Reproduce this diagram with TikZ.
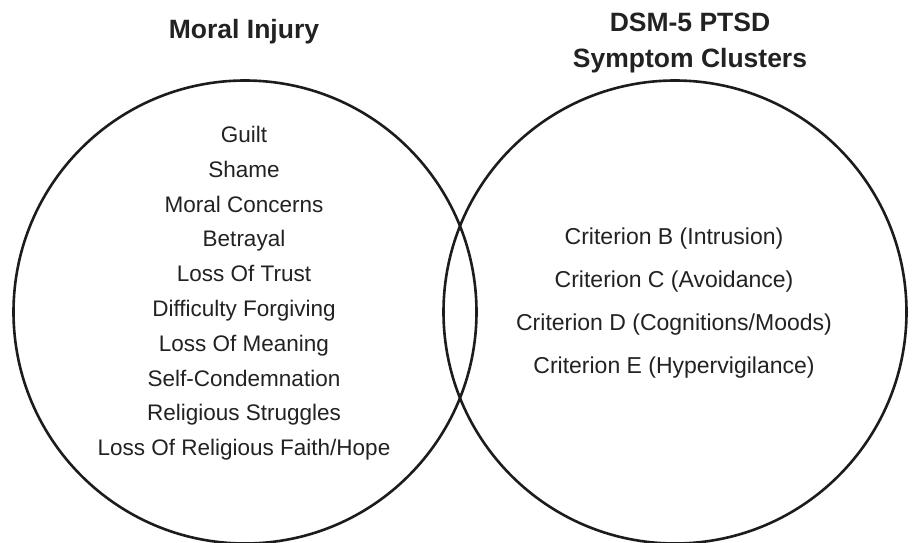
\documentclass[tikz,border=0pt]{standalone}
\usepackage{fontspec}
\setmainfont{Liberation Sans}
\definecolor{ink}{HTML}{1C1C1C}
\definecolor{txt}{HTML}{222222}
\begin{document}
\begin{tikzpicture}[x=1pt,y=-1pt,
  ring/.style={draw=ink, circle, line width=2.6pt, minimum size=463pt, inner sep=0pt},
  ttl/.style={font=\fontsize{26.5}{33}\selectfont\bfseries, text=txt, align=center, inner sep=0pt},
  litem/.style={font=\fontsize{22.5}{27}\selectfont, text=txt, inner sep=0pt},
  ritem/.style={font=\fontsize{23}{28}\selectfont, text=txt, inner sep=0pt}]
\useasboundingbox (0,0) rectangle (914,543);
\fill[white] (0,0) rectangle (914,543);
\node[ring] (L) at (245,312) {};
\node[ring] (R) at (675,312) {};
\node[ttl] (tL) at (244,32) {Moral Injury};
\node[ttl] (tR) at (690,43) {DSM-5 PTSD\\[3pt]Symptom Clusters};
\foreach \t [count=\i from 0] in {Guilt,Shame,Moral Concerns,Betrayal,Loss Of Trust,Difficulty Forgiving,Loss Of Meaning,Self-Condemnation,Religious Struggles,Loss Of Religious Faith/Hope}
  \node[litem] (l\i) at (244,137+34.8*\i) {\strut\t};
\node[ritem] (rB) at (674,239) {\strut Criterion B (Intrusion)};
\node[ritem] (rC) at (674,282) {\strut Criterion C (Avoidance)};
\node[ritem] (rD) at (674,325) {\strut Criterion D (Cognitions/Moods)};
\node[ritem] (rE) at (674,368) {\strut Criterion E (Hypervigilance)};
\end{tikzpicture}
\end{document}
